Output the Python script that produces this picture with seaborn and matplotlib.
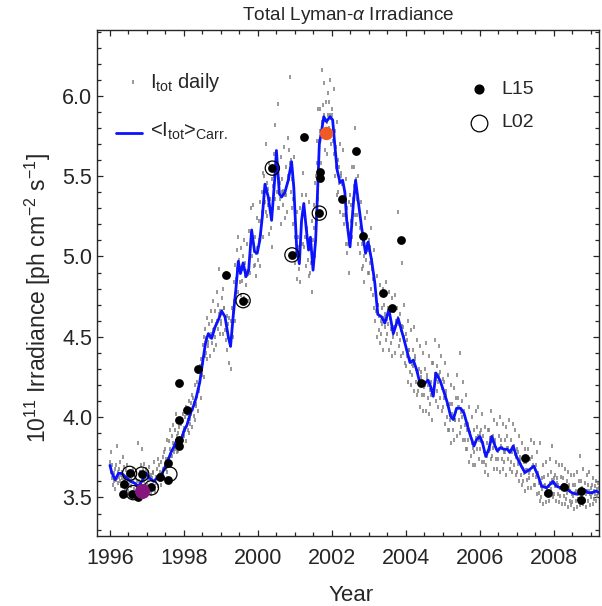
import numpy as np
import pandas as pd
import matplotlib
matplotlib.use("Agg")
import matplotlib.pyplot as plt
from matplotlib.ticker import MultipleLocator, FormatStrFormatter
import seaborn as sns

# Carrington-rotation averaged total irradiance
carr_year = [1996.00, 1996.05, 1996.14, 1996.23, 1996.32, 1996.41, 1996.55, 1996.66, 1996.77, 1996.86,
             1996.98, 1997.07, 1997.18, 1997.27, 1997.41, 1997.54, 1997.65, 1997.74, 1997.81, 1997.90,
             1998.01, 1998.08, 1998.17, 1998.26, 1998.33, 1998.43, 1998.51, 1998.59, 1998.66, 1998.75,
             1998.84, 1998.93, 1999.02, 1999.11, 1999.20, 1999.26, 1999.33, 1999.41, 1999.47, 1999.53,
             1999.60, 1999.68, 1999.75, 1999.83, 1999.91, 1999.98, 2000.05, 2000.12, 2000.19, 2000.28,
             2000.37, 2000.46, 2000.50, 2000.58, 2000.64, 2000.73, 2000.82, 2000.91, 2000.97, 2001.05,
             2001.12, 2001.18, 2001.24, 2001.31, 2001.37, 2001.42, 2001.49, 2001.56, 2001.61, 2001.66,
             2001.72, 2001.78, 2001.85, 2001.95, 2002.02, 2002.08, 2002.14, 2002.22, 2002.29, 2002.35,
             2002.40, 2002.49, 2002.58, 2002.64, 2002.71, 2002.80, 2002.91, 2002.98, 2003.07, 2003.16,
             2003.24, 2003.34, 2003.43, 2003.54, 2003.66, 2003.79, 2003.93, 2004.02, 2004.11, 2004.20,
             2004.29, 2004.38, 2004.51, 2004.60, 2004.67, 2004.74, 2004.81, 2004.92, 2005.01, 2005.12,
             2005.21, 2005.28, 2005.37, 2005.48, 2005.57, 2005.66, 2005.75, 2005.84, 2005.91, 2006.00,
             2006.07, 2006.16, 2006.24, 2006.32, 2006.41, 2006.47, 2006.56, 2006.65, 2006.74, 2006.81,
             2006.90, 2006.99, 2007.12, 2007.22, 2007.35, 2007.46, 2007.58, 2007.67, 2007.80, 2007.89,
             2007.98, 2008.07, 2008.18, 2008.27, 2008.36, 2008.48, 2008.61, 2008.70, 2008.81, 2008.92,
             2009.04, 2009.13, 2009.24]
carr_flux = [3.70, 3.655, 3.61, 3.65, 3.65, 3.63, 3.60, 3.59, 3.57, 3.60,
             3.65, 3.62, 3.60, 3.62, 3.65, 3.715, 3.78, 3.82, 3.86, 3.84,
             3.92, 3.95, 4.02, 4.07, 4.12, 4.22, 4.35, 4.47, 4.52, 4.49,
             4.56, 4.605, 4.66, 4.625, 4.50, 4.44, 4.625, 4.81, 4.97, 4.895,
             4.96, 4.875, 4.915, 5.165, 5.03, 5.02, 5.10, 5.25, 5.45, 5.37,
             5.225, 5.50, 5.66, 5.39, 5.37, 5.40, 5.475, 5.59, 5.43, 5.04,
             4.955, 5.225, 5.33, 5.165, 5.04, 5.12, 4.915, 5.10, 5.39, 5.70,
             5.78, 5.87, 5.84, 5.87, 5.85, 5.69, 5.54, 5.46, 5.475, 5.40,
             5.225, 5.06, 5.33, 5.475, 5.35, 5.185, 5.02, 5.09, 4.98, 4.835,
             4.64, 4.625, 4.585, 4.67, 4.52, 4.615, 4.50, 4.42, 4.34, 4.355,
             4.295, 4.21, 4.21, 4.23, 4.19, 4.13, 4.275, 4.23, 4.17, 4.09,
             4.005, 3.985, 4.055, 4.055, 4.025, 3.95, 3.88, 3.82, 3.86, 3.88,
             3.84, 3.755, 3.80, 3.88, 3.82, 3.79, 3.81, 3.80, 3.80, 3.78,
             3.82, 3.755, 3.695, 3.655, 3.675, 3.695, 3.63, 3.57, 3.56, 3.58,
             3.60, 3.57, 3.56, 3.58, 3.55, 3.53, 3.52, 3.53, 3.55, 3.53,
             3.53, 3.54, 3.53]

# Daily irradiance, one value every five days, per calendar year
daily_1996 = [3.72, 3.78, 3.66, 3.62, 3.70, 3.64, 3.58, 3.65, 3.60, 3.55, 3.68, 3.61,
              3.70, 3.62, 3.82, 3.66, 3.59, 3.63, 3.68, 3.60, 3.72, 3.64, 3.57, 3.66,
              3.62, 3.75, 3.58, 3.69, 3.61, 3.55, 3.60, 3.67, 3.56, 3.64, 3.70, 3.58,
              3.54, 3.63, 3.58, 3.66, 3.52, 3.61, 3.57, 3.64, 3.50, 3.60, 3.68, 3.55,
              3.62, 3.53, 3.58, 3.49, 3.60, 3.56, 3.55, 3.84, 3.60, 3.52, 3.66, 3.57,
              3.70, 3.58, 3.64, 3.80, 3.55, 3.67, 3.60, 3.71, 3.63, 3.58, 3.68, 3.62, 3.66]
daily_1997 = [3.58, 3.66, 3.61, 3.55, 3.69, 3.63, 3.57, 3.64, 3.52, 3.62, 3.58, 3.66,
              3.65, 3.56, 3.72, 3.60, 3.54, 3.63, 3.59, 3.68, 3.62, 3.57, 3.74, 3.64,
              3.70, 3.61, 3.66, 3.58, 3.72, 3.63, 3.64, 3.75, 3.68, 3.62, 3.78, 3.70,
              3.80, 3.68, 3.74, 3.66, 3.86, 3.72, 3.74, 3.85, 3.70, 3.80, 3.92, 3.76,
              3.88, 3.76, 3.84, 3.95, 3.78, 3.82, 3.80, 3.92, 3.85, 4.02, 3.78, 3.88,
              3.90, 3.79, 3.86, 3.94, 3.81, 3.83, 3.85, 3.96, 3.88, 3.82, 4.02, 3.90, 3.93]
daily_1998 = [3.88, 4.00, 3.92, 3.85, 4.06, 3.95, 4.02, 3.92, 3.98, 4.10, 3.90, 3.99,
              3.96, 4.09, 4.02, 3.94, 4.14, 4.05, 4.12, 4.01, 4.09, 4.20, 3.98, 4.07,
              4.08, 4.22, 4.13, 4.04, 4.28, 4.16, 4.18, 4.32, 4.22, 4.12, 4.36, 4.26,
              4.30, 4.45, 4.34, 4.25, 4.50, 4.38, 4.55, 4.40, 4.49, 4.62, 4.36, 4.47,
              4.44, 4.58, 4.50, 4.38, 4.66, 4.52, 4.60, 4.46, 4.54, 4.72, 4.42, 4.55,
              4.50, 4.66, 4.58, 4.45, 4.78, 4.60, 4.70, 4.55, 4.64, 4.92, 4.52, 4.66, 4.60]
daily_1999 = [4.58, 4.74, 4.66, 4.52, 4.80, 4.68, 4.68, 4.54, 4.62, 4.90, 4.48, 4.63,
              4.42, 4.58, 4.50, 4.34, 4.62, 4.47, 4.45, 4.60, 4.30, 4.55, 4.68, 4.50,
              4.66, 4.84, 4.72, 4.60, 4.95, 4.78, 4.86, 5.04, 4.92, 4.78, 5.12, 4.95,
              4.98, 4.84, 4.90, 5.05, 4.76, 4.93, 4.85, 5.00, 4.92, 4.74, 5.10, 4.88,
              4.96, 4.82, 4.91, 5.08, 4.72, 4.89, 4.96, 5.16, 5.04, 4.90, 5.30, 5.08,
              5.16, 5.00, 5.10, 5.32, 4.94, 5.07, 4.95, 5.12, 5.02, 4.88, 5.24, 5.05, 4.98]
daily_2000 = [5.04, 5.22, 5.10, 4.94, 5.34, 5.14, 5.22, 5.40, 5.28, 5.12, 5.52, 5.33,
              5.50, 5.34, 5.44, 5.70, 5.28, 5.46, 5.25, 5.42, 5.32, 5.14, 5.58, 5.36,
              5.36, 5.18, 5.26, 5.48, 5.06, 5.30, 5.44, 5.64, 5.50, 5.36, 5.82, 5.56,
              5.60, 5.40, 5.52, 5.95, 5.30, 5.48, 5.30, 5.46, 5.36, 5.20, 5.62, 5.40,
              5.48, 5.32, 5.41, 5.68, 5.24, 5.38, 5.38, 5.56, 5.45, 5.28, 5.74, 5.50,
              5.66, 5.48, 5.58, 6.12, 5.40, 5.60, 5.30, 5.48, 5.36, 5.20, 5.62, 5.42, 5.12]
daily_2001 = [4.96, 5.14, 5.02, 4.86, 5.28, 5.06, 5.12, 4.92, 5.04, 5.30, 4.84, 5.08,
              5.20, 5.38, 5.26, 5.08, 5.52, 5.30, 5.06, 5.24, 5.12, 4.94, 5.38, 5.18,
              5.16, 4.98, 5.10, 5.34, 4.88, 5.06, 4.90, 5.08, 4.96, 4.78, 5.22, 5.00,
              5.10, 5.32, 5.18, 5.00, 5.46, 5.24, 5.50, 5.72, 5.58, 5.36, 5.92, 5.64,
              5.72, 5.92, 5.78, 5.58, 6.16, 5.84, 5.94, 5.76, 5.88, 6.08, 5.66, 5.85,
              5.78, 5.96, 5.84, 5.64, 6.02, 5.88, 5.96, 5.80, 5.88, 6.10, 5.70, 5.86, 5.92]
daily_2002 = [5.88, 5.72, 5.82, 6.04, 5.64, 5.78, 5.50, 5.68, 5.56, 5.38, 5.84, 5.60,
              5.40, 5.56, 5.46, 5.28, 5.70, 5.50, 5.52, 5.36, 5.45, 5.66, 5.26, 5.42,
              5.20, 5.38, 5.26, 5.08, 5.48, 5.30, 5.02, 5.20, 5.08, 4.90, 5.34, 5.12,
              5.38, 5.22, 5.32, 5.56, 5.12, 5.28, 5.36, 5.56, 5.44, 5.26, 5.80, 5.48,
              5.20, 5.36, 5.26, 5.08, 5.50, 5.30, 5.18, 5.02, 5.12, 5.34, 4.92, 5.08,
              4.94, 5.10, 5.00, 4.84, 5.24, 5.04, 5.12, 4.98, 5.08, 5.28, 4.90, 5.04, 5.10]
daily_2003 = [4.90, 5.06, 4.96, 4.80, 5.18, 4.98, 4.92, 4.76, 4.86, 5.04, 4.68, 4.82,
              4.60, 4.76, 4.66, 4.50, 4.88, 4.70, 4.70, 4.54, 4.63, 4.82, 4.46, 4.60,
              4.52, 4.68, 4.58, 4.42, 4.80, 4.62, 4.70, 4.56, 4.64, 4.84, 4.48, 4.61,
              4.52, 4.68, 4.58, 4.42, 4.78, 4.63, 4.62, 4.46, 4.55, 4.74, 4.38, 4.52,
              4.50, 4.66, 4.56, 4.40, 4.76, 4.60, 4.68, 4.52, 4.62, 5.28, 4.44, 4.58,
              4.48, 4.64, 4.54, 4.38, 4.96, 4.57, 4.56, 4.40, 4.50, 4.70, 4.34, 4.47, 4.52]
daily_2004 = [4.32, 4.48, 4.38, 4.22, 4.60, 4.42, 4.42, 4.28, 4.36, 4.54, 4.20, 4.33,
              4.26, 4.42, 4.32, 4.16, 4.56, 4.36, 4.38, 4.22, 4.30, 4.48, 4.14, 4.28,
              4.16, 4.30, 4.22, 4.06, 4.44, 4.25, 4.28, 4.14, 4.22, 4.40, 4.04, 4.19,
              4.14, 4.30, 4.20, 4.04, 4.46, 4.24, 4.26, 4.12, 4.20, 4.38, 4.02, 4.17,
              4.08, 4.22, 4.14, 3.98, 4.34, 4.16, 4.34, 4.18, 4.27, 4.48, 4.10, 4.24,
              4.16, 4.32, 4.22, 4.06, 4.44, 4.26, 4.28, 4.12, 4.21, 4.38, 4.04, 4.18, 4.24]
daily_2005 = [4.06, 4.22, 4.12, 3.96, 4.34, 4.16, 4.14, 4.00, 4.08, 4.26, 3.92, 4.05,
              3.92, 4.08, 3.98, 3.84, 4.20, 4.02, 4.08, 3.92, 4.01, 4.18, 3.86, 3.98,
              3.98, 4.12, 4.04, 3.88, 4.26, 4.06, 4.12, 3.98, 4.06, 4.40, 3.90, 4.03,
              3.94, 4.10, 4.00, 3.86, 4.22, 4.04, 4.02, 3.86, 3.95, 4.14, 3.80, 3.92,
              3.80, 3.96, 3.86, 3.72, 4.06, 3.90, 3.90, 3.76, 3.84, 4.00, 3.70, 3.81,
              3.78, 3.92, 3.84, 3.70, 4.04, 3.87, 3.94, 3.80, 3.88, 4.06, 3.74, 3.86, 3.90]
daily_2006 = [3.80, 3.92, 3.85, 3.72, 4.02, 3.88, 3.84, 3.72, 3.79, 3.94, 3.66, 3.77,
              3.70, 3.84, 3.76, 3.64, 3.92, 3.79, 3.92, 3.80, 3.87, 4.04, 3.74, 3.85,
              3.76, 3.88, 3.81, 3.68, 3.98, 3.83, 3.86, 3.74, 3.81, 3.96, 3.68, 3.79,
              3.74, 3.88, 3.80, 3.66, 4.00, 3.82, 3.86, 3.74, 3.81, 3.96, 3.68, 3.78,
              3.72, 3.86, 3.78, 3.64, 3.94, 3.81, 3.88, 3.74, 3.81, 3.98, 3.68, 3.79,
              3.72, 3.86, 3.78, 3.66, 3.96, 3.80, 3.82, 3.70, 3.77, 3.92, 3.64, 3.75, 3.80]
daily_2007 = [3.66, 3.78, 3.71, 3.60, 3.88, 3.73, 3.75, 3.64, 3.70, 3.84, 3.58, 3.68,
              3.60, 3.72, 3.65, 3.54, 3.80, 3.67, 3.72, 3.61, 3.67, 3.80, 3.56, 3.65,
              3.62, 3.74, 3.67, 3.56, 3.86, 3.69, 3.75, 3.64, 3.70, 3.84, 3.58, 3.68,
              3.58, 3.70, 3.63, 3.52, 3.78, 3.65, 3.64, 3.53, 3.59, 3.84, 3.48, 3.57,
              3.50, 3.62, 3.55, 3.46, 3.70, 3.57, 3.63, 3.52, 3.58, 3.72, 3.47, 3.56,
              3.52, 3.64, 3.57, 3.48, 3.74, 3.59, 3.66, 3.55, 3.61, 3.82, 3.50, 3.59, 3.62]
daily_2008 = [3.52, 3.64, 3.57, 3.48, 3.72, 3.59, 3.62, 3.52, 3.58, 3.70, 3.47, 3.56,
              3.51, 3.63, 3.56, 3.46, 3.70, 3.58, 3.62, 3.51, 3.57, 3.68, 3.46, 3.55,
              3.49, 3.60, 3.53, 3.44, 3.66, 3.55, 3.58, 3.48, 3.54, 3.64, 3.45, 3.52,
              3.47, 3.58, 3.51, 3.43, 3.64, 3.53, 3.58, 3.48, 3.54, 3.66, 3.44, 3.52,
              3.49, 3.60, 3.53, 3.45, 3.76, 3.55, 3.60, 3.50, 3.56, 3.68, 3.46, 3.54,
              3.48, 3.59, 3.52, 3.44, 3.64, 3.54, 3.58, 3.48, 3.54, 3.66, 3.45, 3.52, 3.56]
daily_2009 = [3.50, 3.58, 3.53, 3.46, 3.62, 3.54, 3.49, 3.57, 3.52, 3.60, 3.48, 3.55,
              3.51, 3.59, 3.53, 3.56]

daily_by_year = {1996: daily_1996, 1997: daily_1997, 1998: daily_1998, 1999: daily_1999,
                 2000: daily_2000, 2001: daily_2001, 2002: daily_2002, 2003: daily_2003,
                 2004: daily_2004, 2005: daily_2005, 2006: daily_2006, 2007: daily_2007,
                 2008: daily_2008, 2009: daily_2009}

# Reconstructed irradiances (L15) and earlier estimates (L02)
l15_year = [1996.35, 1996.38, 1996.53, 1996.60, 1996.76, 1996.86, 1997.10, 1997.34, 1997.58, 1997.58,
            1997.87, 1997.88, 1997.86, 1997.86, 1998.07, 1998.38, 1999.15, 1999.60, 2000.39, 2000.92,
            2001.24, 2001.66, 2001.69, 2001.69, 2002.27, 2002.65, 2002.84, 2003.38, 2003.63, 2003.88,
            2004.41, 2007.22, 2007.85, 2008.27, 2008.73, 2008.73]
l15_flux = [3.52, 3.585, 3.65, 3.52, 3.50, 3.645, 3.565, 3.63, 3.715, 3.61,
            3.82, 3.86, 3.98, 4.21, 4.045, 4.30, 4.885, 4.725, 5.55, 5.01,
            5.745, 5.27, 5.49, 5.525, 5.36, 5.655, 5.13, 4.77, 4.68, 5.10,
            4.21, 3.745, 3.525, 3.565, 3.54, 3.485]
l02_year = [1996.53, 1996.86, 1996.63, 1997.12, 1997.62, 1999.60, 2000.39, 2000.92, 2001.66]
l02_flux = [3.65, 3.645, 3.53, 3.56, 3.645, 4.725, 5.55, 5.01, 5.27]

# Highlighted epochs (solar maximum and minimum)
max_year, max_flux = [2001.84], [5.77]
min_year, min_flux = [1996.86], [3.54]

# ---------------------------------------------------------------- tables
rows = []
for yr, vals in daily_by_year.items():
    for i, v in enumerate(vals):
        rows.append((yr + (i + 0.5) * 5.0 / 365.25, v))
daily = pd.DataFrame(rows, columns=["year", "flux"])
carr = pd.DataFrame({"year": carr_year, "flux": carr_flux})
l15 = pd.DataFrame({"year": l15_year, "flux": l15_flux})
l02 = pd.DataFrame({"year": l02_year, "flux": l02_flux})

# ---------------------------------------------------------------- style
sns.set_theme(style="ticks")
plt.rcParams["font.family"] = ["Liberation Sans", "DejaVu Sans"]
plt.rcParams["mathtext.fontset"] = "custom"
plt.rcParams["mathtext.rm"] = "Liberation Sans"
plt.rcParams["mathtext.it"] = "Liberation Sans:italic"
plt.rcParams["mathtext.bf"] = "Liberation Sans:bold"

ink = "#262626"
dot_grey = "#7c7c7c"
fig = plt.figure(figsize=(6.02, 6.06), dpi=100)
ax = fig.add_axes([97 / 602, 1 - 536 / 606, 502 / 602, 506 / 606])

# daily values drawn as short vertical ticks, like a dense point cloud
sns.scatterplot(data=daily, x="year", y="flux", ax=ax, s=12, color=dot_grey,
                marker="|", linewidth=1.1, legend=False, zorder=1)
sns.lineplot(data=carr, x="year", y="flux", ax=ax, color="#0b12ff", lw=2.0,
             estimator=None, sort=False, legend=False, zorder=2)
sns.scatterplot(data=l02, x="year", y="flux", ax=ax, s=105, facecolor="none",
                edgecolor="black", linewidth=0.9, legend=False, zorder=3)
sns.scatterplot(data=l15, x="year", y="flux", ax=ax, s=40, color="black",
                linewidth=0, legend=False, zorder=4)
ax.scatter(max_year, max_flux, s=92, color="#f15a22", linewidth=0, zorder=5)
ax.scatter(min_year, min_flux, s=118, color="#86157f", linewidth=0, zorder=5)

ax.set_xlim(1995.65, 2009.22)
ax.set_ylim(3.26, 6.41)
ax.xaxis.set_major_locator(MultipleLocator(2))
ax.xaxis.set_minor_locator(MultipleLocator(0.5))
ax.yaxis.set_major_locator(MultipleLocator(0.5))
ax.yaxis.set_minor_locator(MultipleLocator(0.1))
ax.yaxis.set_major_formatter(FormatStrFormatter("%.1f"))
ax.xaxis.set_major_formatter(FormatStrFormatter("%d"))
ax.tick_params(which="both", direction="in", top=True, right=True,
               colors=ink, labelcolor=ink, width=0.9)
ax.tick_params(which="major", length=4.5, labelsize=15.5)
ax.tick_params(axis="x", which="major", pad=9)
ax.tick_params(axis="y", which="major", pad=3.5)
ax.tick_params(which="minor", length=3)
for sp in ax.spines.values():
    sp.set_color(ink)
    sp.set_linewidth(1.0)

ax.set_title(r"Total Lyman-$\alpha$ Irradiance", fontsize=13.7, color=ink, pad=7)
ax.set_xlabel("Year", fontsize=16, color=ink)
ax.set_ylabel(r"10$^{11}$ Irradiance [ph cm$^{-2}$ s$^{-1}$]", fontsize=16.5, color=ink)
ax.xaxis.set_label_coords(0.506, -0.097)
ax.yaxis.set_label_coords(-0.088, 0.47)

# in-plot keys
ax.plot([0.0717], [0.897], "|", ms=3, mew=1.1, color=dot_grey, transform=ax.transAxes)
ax.text(0.1056, 0.897, r"I$_{\rm tot}$ daily", transform=ax.transAxes,
        fontsize=14.5, color=ink, va="center", ha="left")
ax.plot([0.0378, 0.0896], [0.797, 0.797], "-", lw=2.0, color="#0b12ff",
        transform=ax.transAxes)
ax.text(0.1056, 0.800, r"<I$_{\rm tot}$>$_{\rm Carr.}$", transform=ax.transAxes,
        fontsize=14.5, color=ink, va="center", ha="left")
ax.plot([0.7616], [0.8828], "o", ms=6.3, color="black", transform=ax.transAxes)
ax.text(0.8062, 0.8828, "L15", transform=ax.transAxes,
        fontsize=14, color=ink, va="center", ha="left")
ax.plot([0.7616], [0.8168], "o", ms=12, mfc="none", mec="black", mew=0.9,
        transform=ax.transAxes)
ax.text(0.8062, 0.8168, "L02", transform=ax.transAxes,
        fontsize=14, color=ink, va="center", ha="left")

fig.savefig("out.png", dpi=100)
